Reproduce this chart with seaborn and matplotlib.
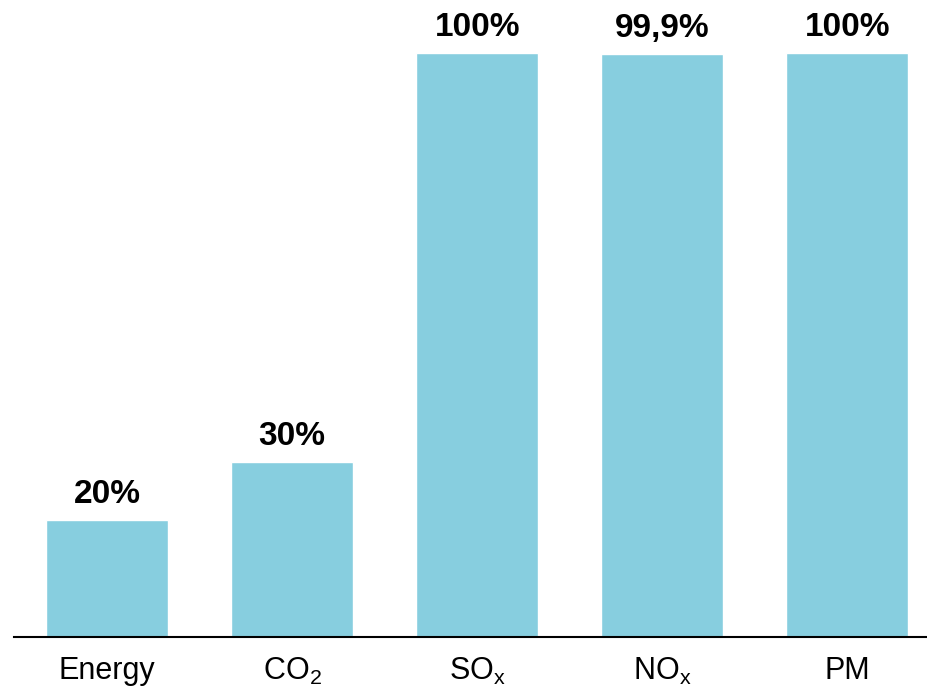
import matplotlib
matplotlib.use("Agg")
import matplotlib.pyplot as plt
import seaborn as sns
from matplotlib import font_manager

# Emission reductions
categories = ["Energy", r"$\mathregular{CO_2}$", r"$\mathregular{SO_x}$",
              r"$\mathregular{NO_x}$", "PM"]
values = [20, 30, 100, 99.9, 100]
value_labels = ["20%", "30%", "100%", "99,9%", "100%"]

bar_color = "#87CEDF"

sns.set_theme(style="white")
names = {f.name for f in font_manager.fontManager.ttflist}
family = "Liberation Sans Narrow" if "Liberation Sans Narrow" in names else "Liberation Sans"
plt.rcParams["font.family"] = [family, "DejaVu Sans"]

fig = plt.figure(figsize=(9.27, 6.97), dpi=100)
ax = fig.add_axes([14 / 927, 1 - 637 / 697, 913 / 927, 637 / 697])

sns.barplot(x=categories, y=values, color=bar_color, saturation=1,
            width=0.66, ax=ax)

ax.set_xlim(-0.503, 4.43)
ax.set_ylim(0, 100 * 637 / 584)

ax.bar_label(ax.containers[0], labels=value_labels, padding=7,
             fontsize=24, fontweight="bold", color="black")

for side in ["top", "left", "right"]:
    ax.spines[side].set_visible(False)
ax.spines["bottom"].set_color("black")
ax.spines["bottom"].set_linewidth(1.5)

ax.set_yticks([])
ax.set_xlabel("")
ax.set_ylabel("")
ax.tick_params(axis="x", length=0, pad=13.5, labelsize=22, colors="black")

fig.savefig("out.png", dpi=100)
